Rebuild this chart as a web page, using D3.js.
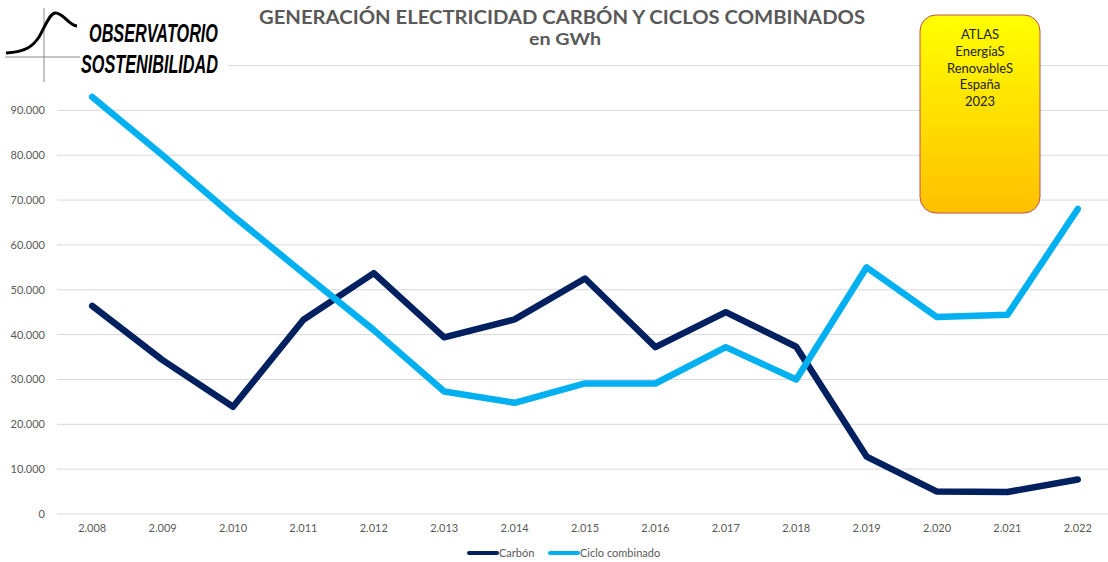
<!DOCTYPE html>
<html>
<head>
<meta charset="utf-8">
<script src="https://cdn.jsdelivr.net/npm/d3@7"></script>
<style>
  body { margin: 0; background: #fff; }
  svg { display: block; font-family: Lato, "DejaVu Sans", sans-serif; }
</style>
</head>
<body>
<script>
// Data

const years = ["2.008","2.009","2.010","2.011","2.012","2.013","2.014","2.015","2.016","2.017","2.018","2.019","2.020","2.021","2.022"];
const carbon = [46400, 34300, 23900, 43300, 53700, 39400, 43400, 52500, 37200, 45000, 37300, 12800, 5000, 4900, 7700];
const ciclo = [93000, 80000, 66500, 53700, 41000, 27300, 24800, 29100, 29100, 37200, 30000, 55000, 43900, 44400, 68000];
const yTicks = [0, 10000, 20000, 30000, 40000, 50000, 60000, 70000, 80000, 90000, 100000];
const seriesNames = ["Carbón", "Ciclo combinado"];
const seriesColors = ["#002060", "#00b0f0"];
const atlasLines = ["ATLAS", "EnergíaS", "RenovableS", "España", "2023"];

// Dimensions

const width = 1108, height = 562;
const plotLeft = 57, plotRight = 1113, plotTop = 65.5, plotBottom = 514;

const svg = d3.select("body").append("svg")
  .attr("width", width)
  .attr("height", height);

const x = d3.scaleBand().domain(years).range([plotLeft, plotRight]);
const y = d3.scaleLinear().domain([0, 100000]).range([plotBottom, plotTop]);

const fmt = d3.formatLocale({ decimal: ",", thousands: ".", grouping: [3], currency: ["", "€"] }).format(",d");

// gridlines

svg.append("g")
  .selectAll("line")
  .data(yTicks)
  .join("line")
  .attr("x1", plotLeft).attr("x2", plotRight)
  .attr("y1", d => y(d)).attr("y2", d => y(d))
  .attr("stroke", "#d9d9d9")
  .attr("stroke-width", 1);

// y labels

svg.append("g")
  .selectAll("text")
  .data(yTicks)
  .join("text")
  .attr("x", 45)
  .attr("y", d => y(d) + 4)
  .attr("text-anchor", "end")
  .attr("font-size", 11)
  .attr("fill", "#595959")
  .text(d => fmt(d));

// x labels

svg.append("g")
  .selectAll("text")
  .data(years)
  .join("text")
  .attr("x", d => x(d) + x.bandwidth() / 2)
  .attr("y", 532)
  .attr("text-anchor", "middle")
  .attr("font-size", 11)
  .attr("fill", "#595959")
  .text(d => d);

// lines

const line = d3.line()
  .x((d, i) => x(years[i]) + x.bandwidth() / 2)
  .y(d => y(d));

[carbon, ciclo].forEach((data, i) => {
  svg.append("path")
    .datum(data)
    .attr("fill", "none")
    .attr("stroke", seriesColors[i])
    .attr("stroke-width", 6.5)
    .attr("stroke-linejoin", "round")
    .attr("stroke-linecap", "round")
    .attr("d", line);
});

// legend

const legendX = [469, 550];
const legend = svg.append("g");
seriesNames.forEach((name, i) => {
  legend.append("line")
    .attr("x1", legendX[i]).attr("x2", legendX[i] + 28)
    .attr("y1", 553).attr("y2", 553)
    .attr("stroke", seriesColors[i])
    .attr("stroke-width", 4)
    .attr("stroke-linecap", "round");
  legend.append("text")
    .attr("x", legendX[i] + 30)
    .attr("y", 557)
    .attr("font-size", 11)
    .attr("fill", "#595959")
    .text(name);
});

// logo

const logo = svg.append("g");
logo.append("rect").attr("x", 0).attr("y", 0).attr("width", 228).attr("height", 84).attr("fill", "#fff");
logo.append("line").attr("x1", 44).attr("x2", 44).attr("y1", 8).attr("y2", 82).attr("stroke", "#888").attr("stroke-width", 1);
logo.append("line").attr("x1", 5).attr("x2", 80).attr("y1", 57).attr("y2", 57).attr("stroke", "#888").attr("stroke-width", 1);
logo.append("path")
  .attr("d", "M6,53 C26,52 33,46 39,37 C45,27 49,14 55,13 C63,12 68,25 77,26")
  .attr("fill", "none").attr("stroke", "#000").attr("stroke-width", 3);
logo.append("text")
  .attr("x", 89).attr("y", 42)
  .attr("font-family", "'Liberation Sans Narrow', 'Liberation Sans', sans-serif")
  .attr("font-weight", "bold").attr("font-style", "italic")
  .attr("font-size", 26)
  .attr("textLength", 129).attr("lengthAdjust", "spacingAndGlyphs")
  .text("OBSERVATORIO");
logo.append("text")
  .attr("x", 81).attr("y", 73)
  .attr("font-family", "'Liberation Sans Narrow', 'Liberation Sans', sans-serif")
  .attr("font-weight", "bold").attr("font-style", "italic")
  .attr("font-size", 26)
  .attr("textLength", 137).attr("lengthAdjust", "spacingAndGlyphs")
  .text("SOSTENIBILIDAD");

// title

svg.append("text")
  .attr("x", 562).attr("y", 24)
  .attr("text-anchor", "middle")
  .attr("font-size", 18).attr("font-weight", "bold")
  .attr("fill", "#595959")
  .attr("textLength", 606).attr("lengthAdjust", "spacingAndGlyphs")
  .text("GENERACIÓN ELECTRICIDAD CARBÓN Y CICLOS COMBINADOS");
svg.append("text")
  .attr("x", 565).attr("y", 45)
  .attr("text-anchor", "middle")
  .attr("font-size", 17).attr("font-weight", "bold")
  .attr("fill", "#595959")
  .attr("textLength", 72).attr("lengthAdjust", "spacingAndGlyphs")
  .text("en GWh");

// atlas box

const grad = svg.append("defs").append("linearGradient")
  .attr("id", "atlasGrad").attr("x1", 0).attr("x2", 0).attr("y1", 0).attr("y2", 1);
grad.append("stop").attr("offset", "0%").attr("stop-color", "#ffff00");
grad.append("stop").attr("offset", "100%").attr("stop-color", "#ffc000");

svg.append("rect")
  .attr("x", 920).attr("y", 15)
  .attr("width", 120).attr("height", 198)
  .attr("rx", 16)
  .attr("fill", "url(#atlasGrad)")
  .attr("stroke", "#c0504d").attr("stroke-width", 1);

svg.append("g")
  .selectAll("text")
  .data(atlasLines)
  .join("text")
  .attr("x", 980)
  .attr("y", (d, i) => 39 + i * 16.8)
  .attr("text-anchor", "middle")
  .attr("font-size", 13)
  .attr("fill", "#222")
  .text(d => d);
</script>
</body>
</html>
